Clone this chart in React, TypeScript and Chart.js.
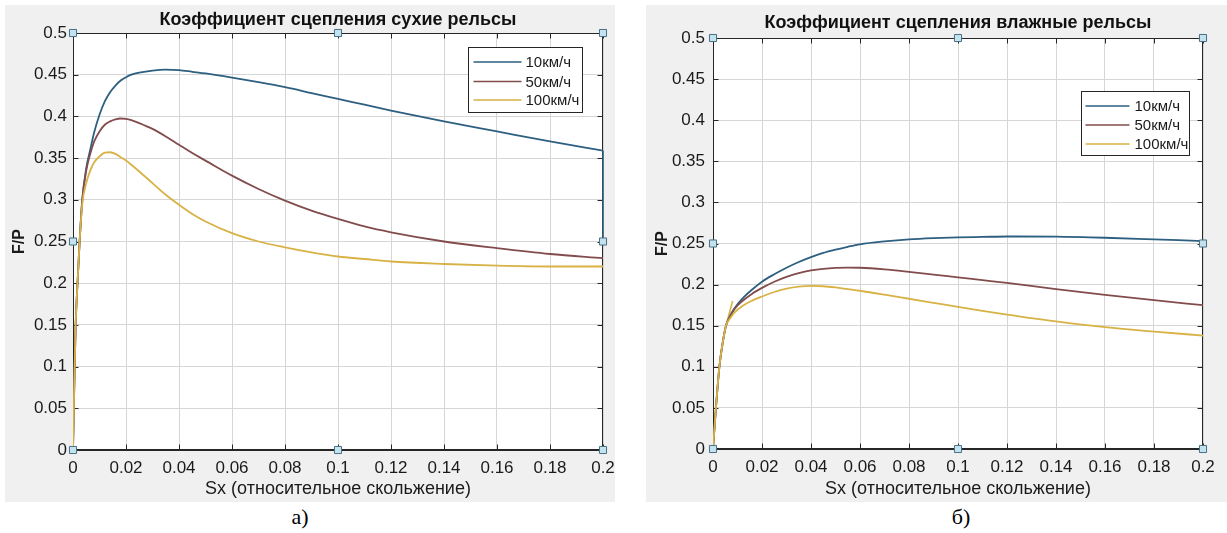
import React, { useEffect, useRef } from 'react';
import { Chart, registerables } from 'chart.js';

Chart.register(...registerables);

// ---------- text ----------
const seriesNames = ['10км/ч', '50км/ч', '100км/ч'];
const dryTitle = 'Коэффициент сцепления сухие рельсы';
const wetTitle = 'Коэффициент сцепления влажные рельсы';
const xAxisTitle = 'Sx (относительное скольжение)';
const yAxisTitle = 'F/P';
const captions = ['а)', 'б)'];
const xTickLabels = ['0', '0.02', '0.04', '0.06', '0.08', '0.1', '0.12', '0.14', '0.16', '0.18', '0.2'];
const yTickLabels = ['0', '0.05', '0.1', '0.15', '0.2', '0.25', '0.3', '0.35', '0.4', '0.45', '0.5'];

// ---------- data: dry rails (а) ----------
const drySlip = [0, 0.0005, 0.001, 0.0017, 0.0025, 0.0035, 0.005, 0.0065, 0.008, 0.01, 0.012, 0.014, 0.016, 0.018, 0.02, 0.022, 0.025, 0.03, 0.035, 0.04, 0.045, 0.05, 0.06, 0.07, 0.08, 0.09, 0.1, 0.11, 0.12, 0.14, 0.16, 0.18, 0.2];
const dry10 = [0, 0.08, 0.15, 0.2, 0.25, 0.3, 0.338, 0.36, 0.381, 0.402, 0.418, 0.429, 0.437, 0.443, 0.447, 0.45, 0.4525, 0.455, 0.456, 0.4555, 0.4535, 0.4515, 0.4465, 0.441, 0.435, 0.428, 0.421, 0.414, 0.407, 0.394, 0.382, 0.37, 0.359];
const dry50 = [0, 0.08, 0.15, 0.2, 0.25, 0.3, 0.335, 0.355, 0.37, 0.382, 0.39, 0.394, 0.3965, 0.3975, 0.397, 0.3955, 0.392, 0.385, 0.376, 0.366, 0.356, 0.347, 0.329, 0.313, 0.299, 0.287, 0.277, 0.268, 0.261, 0.25, 0.242, 0.235, 0.23];
const dry100 = [0, 0.08, 0.15, 0.2, 0.25, 0.295, 0.32, 0.335, 0.345, 0.352, 0.3565, 0.357, 0.355, 0.351, 0.347, 0.342, 0.334, 0.32, 0.306, 0.294, 0.283, 0.274, 0.26, 0.25, 0.243, 0.237, 0.232, 0.229, 0.226, 0.223, 0.221, 0.22, 0.22];
const dryCursorX = [0.2, 0.2];
const dryCursorY = [0.359, 0.25];

// ---------- data: wet rails (б) ----------
const wetSlip = [0, 0.0012, 0.0026, 0.004, 0.0053, 0.007, 0.0087, 0.012, 0.016, 0.02, 0.025, 0.03, 0.035, 0.04, 0.045, 0.05, 0.055, 0.06, 0.07, 0.08, 0.09, 0.1, 0.11, 0.12, 0.14, 0.16, 0.18, 0.2];
const wet10 = [0, 0.05, 0.1, 0.13, 0.15, 0.162, 0.171, 0.183, 0.194, 0.2035, 0.2125, 0.2205, 0.2275, 0.2335, 0.2385, 0.2425, 0.246, 0.249, 0.2525, 0.255, 0.2565, 0.2575, 0.258, 0.2585, 0.2583, 0.257, 0.255, 0.253];
const wet50 = [0, 0.05, 0.1, 0.13, 0.15, 0.161, 0.17, 0.18, 0.189, 0.196, 0.2035, 0.2095, 0.214, 0.2172, 0.2192, 0.2203, 0.2207, 0.2205, 0.2185, 0.2155, 0.2122, 0.2088, 0.2054, 0.202, 0.1945, 0.1875, 0.181, 0.175];
const wet100 = [0, 0.05, 0.1, 0.13, 0.15, 0.159, 0.166, 0.174, 0.1805, 0.1855, 0.191, 0.195, 0.1975, 0.1985, 0.198, 0.1965, 0.1945, 0.1925, 0.1878, 0.1828, 0.1778, 0.1728, 0.168, 0.1635, 0.1552, 0.1482, 0.1428, 0.138];
const wetSpikeX = [0.0053, 0.008];
const wetSpikeY = [0.15, 0.18];

// ---------- data tips (both plots) ----------
const tipX = [0, 0, 0, 0.1, 0.2, 0.1, 0.2, 0.2];
const tipY = [0, 0.25, 0.5, 0.5, 0.5, 0, 0, 0.25];

// ---------- styles ----------
const FONT = '"Liberation Sans", Arial, Helvetica, sans-serif';
const colors = ['#2d5f80', '#824c4c', '#d8b245'];
const PANEL = '#f0f0f0';
const AXIS = '#262626';
const GRID = '#d6d6d6';

const pts = (xs: number[], ys: number[]) => xs.map((x, i) => ({ x, y: ys[i] }));

const decorPlugin = {
  id: 'matlabDecor',
  beforeDraw(chart: any, _a: any, o: any) {
    const { ctx, chartArea: a, width, height } = chart;
    ctx.save();
    ctx.fillStyle = o.panelColor;
    ctx.fillRect(0, 0, width, height);
    ctx.fillStyle = '#ffffff';
    ctx.fillRect(a.left, a.top, a.right - a.left, a.bottom - a.top);
    ctx.restore();
  },
  beforeDatasetsDraw(chart: any, _a: any, o: any) {
    const { ctx, chartArea: a, scales } = chart;
    ctx.save();
    ctx.strokeStyle = o.axisColor;
    ctx.lineWidth = 1;
    const L = Math.round(a.left) + 0.5;
    const R = Math.round(a.right) - 0.5;
    const T = Math.round(a.top) + 0.5;
    const B = Math.round(a.bottom) - 0.5;
    ctx.beginPath();
    ctx.rect(L, T, R - L, B - T);
    for (const t of scales.x.ticks) {
      const px = Math.round(scales.x.getPixelForValue(t.value)) + 0.5;
      ctx.moveTo(px, B);
      ctx.lineTo(px, B - o.tickLen);
      ctx.moveTo(px, T);
      ctx.lineTo(px, T + o.tickLen);
    }
    for (const t of scales.y.ticks) {
      const py = Math.round(scales.y.getPixelForValue(t.value)) + 0.5;
      ctx.moveTo(L, py);
      ctx.lineTo(L + o.tickLen, py);
      ctx.moveTo(R, py);
      ctx.lineTo(R - o.tickLen, py);
    }
    ctx.stroke();
    ctx.restore();
  },
  afterDraw(chart: any, _a: any, o: any) {
    const { ctx, chartArea: a } = chart;
    ctx.save();
    // title
    ctx.fillStyle = '#111';
    ctx.font = `bold ${o.titleSize}px ${FONT}`;
    ctx.textAlign = 'center';
    ctx.textBaseline = 'middle';
    ctx.fillText(o.title, (a.left + a.right) / 2, o.titleY);
    // legend
    const lg = o.legend;
    const bx = Math.round(a.right - lg.offsetRight - lg.width) + 0.5;
    const by = Math.round(a.top + lg.offsetTop) + 0.5;
    ctx.fillStyle = '#ffffff';
    ctx.fillRect(bx, by, lg.width, lg.height);
    ctx.strokeStyle = AXIS;
    ctx.lineWidth = 1;
    ctx.strokeRect(bx, by, lg.width, lg.height);
    ctx.font = `${lg.fontSize}px ${FONT}`;
    ctx.textAlign = 'left';
    o.items.forEach((it: any, i: number) => {
      const y = by + lg.rows[i];
      ctx.strokeStyle = it.color;
      ctx.lineWidth = 1.6;
      ctx.beginPath();
      ctx.moveTo(bx + lg.lineStart, y);
      ctx.lineTo(bx + lg.lineEnd, y);
      ctx.stroke();
      ctx.fillStyle = '#1a1a1a';
      ctx.fillText(it.label, bx + lg.textX, y + 1);
    });
    ctx.restore();
  },
};

type PanelSpec = {
  title: string;
  titleY: number;
  slip: number[];
  series: number[][];
  extraX: number[];
  extraY: number[];
  extraColor: string;
  padTop: number;
  padRight: number;
  yAxisWidth: number;
  xAxisHeight: number;
  yTitlePad: number;
  yTickPad: number;
  legend: any;
};

function buildConfig(p: PanelSpec): any {
  const lines = p.series.map((ys, i) => ({
    label: seriesNames[i],
    data: pts(p.slip, ys),
    borderColor: colors[i],
    backgroundColor: colors[i],
    borderWidth: 1.8,
    pointRadius: 0,
    cubicInterpolationMode: 'monotone',
    fill: false,
    order: 3 - i,
  }));
  return {
    type: 'line',
    data: {
      datasets: [
        {
          label: 'tips',
          data: pts(tipX, tipY),
          showLine: false,
          pointStyle: 'rect',
          pointRadius: 5,
          pointBackgroundColor: '#c2e2ef',
          pointBorderColor: '#4a6f80',
          pointBorderWidth: 1,
          clip: false,
          order: 0,
        },
        ...lines,
        {
          label: 'extra',
          data: pts(p.extraX, p.extraY),
          borderColor: p.extraColor,
          borderWidth: 1.6,
          pointRadius: 0,
          fill: false,
          clip: false,
          order: 4,
        },
      ],
    },
    options: {
      animation: false,
      responsive: false,
      events: [],
      layout: { padding: { top: p.padTop, right: p.padRight, left: 0, bottom: 0 } },
      plugins: {
        legend: { display: false },
        tooltip: { enabled: false },
        title: { display: false },
        matlabDecor: {
          panelColor: PANEL,
          axisColor: AXIS,
          tickLen: 5,
          title: p.title,
          titleY: p.titleY,
          titleSize: 18,
          legend: p.legend,
          items: seriesNames.map((label, i) => ({ label, color: colors[i] })),
        },
      },
      scales: {
        x: {
          type: 'linear',
          min: 0,
          max: 0.2,
          grid: { color: GRID, drawTicks: false, lineWidth: 1 },
          border: { display: true, color: AXIS },
          ticks: {
            stepSize: 0.02,
            autoSkip: false,
            maxRotation: 0,
            padding: 8,
            color: '#1a1a1a',
            font: { family: FONT, size: 17 },
            callback: (_v: any, i: number) => xTickLabels[i],
          },
          title: {
            display: true,
            text: xAxisTitle,
            color: '#1a1a1a',
            font: { family: FONT, size: 18 },
            padding: { top: 0, bottom: 2 },
          },
          afterFit: (s: any) => {
            s.height = p.xAxisHeight;
            s.paddingLeft = 0;
            s.paddingRight = 0;
          },
        },
        y: {
          type: 'linear',
          min: 0,
          max: 0.5,
          grid: { color: GRID, drawTicks: false, lineWidth: 1 },
          border: { display: true, color: AXIS },
          ticks: {
            stepSize: 0.05,
            autoSkip: false,
            padding: p.yTickPad,
            color: '#1a1a1a',
            font: { family: FONT, size: 17 },
            callback: (_v: any, i: number) => yTickLabels[i],
          },
          title: {
            display: true,
            text: yAxisTitle,
            color: '#1a1a1a',
            font: { family: FONT, size: 16, weight: 'bold' },
            padding: { top: p.yTitlePad, bottom: 0 },
          },
          afterFit: (s: any) => {
            s.width = p.yAxisWidth;
            s.paddingTop = 0;
            s.paddingBottom = 0;
          },
        },
      },
    },
    plugins: [decorPlugin],
  };
}

const dryPanel: PanelSpec = {
  title: dryTitle,
  titleY: 15,
  slip: drySlip,
  series: [dry10, dry50, dry100],
  extraX: dryCursorX,
  extraY: dryCursorY,
  extraColor: colors[0],
  padTop: 28,
  padRight: 12,
  yAxisWidth: 68,
  xAxisHeight: 52,
  yTitlePad: 5,
  yTickPad: 6,
  legend: { offsetRight: 21, offsetTop: 14, width: 114, height: 65, lineStart: 5, lineEnd: 53, textX: 57, rows: [14.5, 34, 52.5], fontSize: 15 },
};

const wetPanel: PanelSpec = {
  title: wetTitle,
  titleY: 18,
  slip: wetSlip,
  series: [wet10, wet50, wet100],
  extraX: wetSpikeX,
  extraY: wetSpikeY,
  extraColor: colors[2],
  padTop: 33,
  padRight: 24,
  yAxisWidth: 67,
  xAxisHeight: 53,
  yTitlePad: 7,
  yTickPad: 8,
  legend: { offsetRight: 14, offsetTop: 53, width: 108, height: 64, lineStart: 4, lineEnd: 48, textX: 53, rows: [14.5, 33.5, 52.5], fontSize: 15 },
};

function PanelChart({ spec, width, height }: { spec: PanelSpec; width: number; height: number }) {
  const ref = useRef<HTMLCanvasElement | null>(null);
  useEffect(() => {
    if (!ref.current) return;
    const chart = new Chart(ref.current, buildConfig(spec));
    return () => chart.destroy();
  }, [spec]);
  return <canvas ref={ref} width={width} height={height} style={{ width, height, display: 'block' }} />;
}

const captionStyle: React.CSSProperties = {
  position: 'absolute',
  width: 80,
  top: 504,
  textAlign: 'center',
  fontFamily: '"Liberation Serif", "Times New Roman", serif',
  fontSize: 22,
  lineHeight: '26px',
  color: '#000',
};

export default function App() {
  return (
    <div style={{ position: 'fixed', left: 0, top: 0, width: 1227, height: 533, background: '#ffffff', overflow: 'hidden' }}>
      <div style={{ position: 'absolute', left: 5, top: 5 }}>
        <PanelChart spec={dryPanel} width={610} height={497} />
      </div>
      <div style={{ position: 'absolute', left: 646, top: 5 }}>
        <PanelChart spec={wetPanel} width={581} height={497} />
      </div>
      <div style={{ ...captionStyle, left: 260 }}>{captions[0]}</div>
      <div style={{ ...captionStyle, left: 921 }}>{captions[1]}</div>
    </div>
  );
}
